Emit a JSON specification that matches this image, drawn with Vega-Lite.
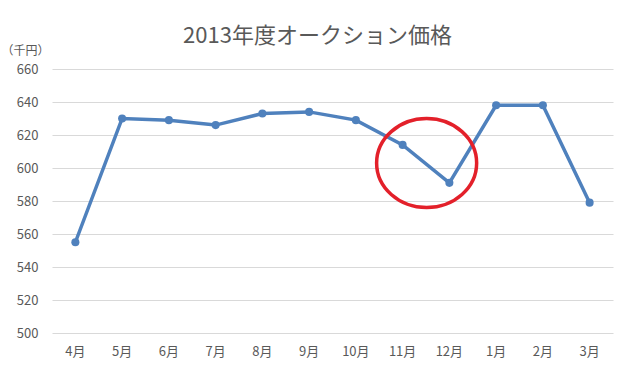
{
  "$schema": "https://vega.github.io/schema/vega-lite/v6.json",
  "width": 561,
  "height": 264,
  "autosize": {"type": "none"},
  "padding": {"left": 52, "top": 69, "right": 24, "bottom": 46},
  "background": "white",
  "title": {
    "text": "2013年度オークション価格",
    "font": "Noto Sans CJK JP",
    "fontSize": 22,
    "fontWeight": "normal",
    "color": "#595959",
    "anchor": "middle",
    "offset": -4,
    "dx": -15
  },
  "config": {
    "view": {"stroke": null},
    "font": "Noto Sans CJK JP"
  },
  "datasets": {
    "prices": [
      {"month": "4月", "price": 555},
      {"month": "5月", "price": 630},
      {"month": "6月", "price": 629},
      {"month": "7月", "price": 626},
      {"month": "8月", "price": 633},
      {"month": "9月", "price": 634},
      {"month": "10月", "price": 629},
      {"month": "11月", "price": 614},
      {"month": "12月", "price": 591},
      {"month": "1月", "price": 638},
      {"month": "2月", "price": 638},
      {"month": "3月", "price": 579}
    ],
    "mark": [
      {"month": "11月", "price": 603}
    ]
  },
  "encoding": {
    "x": {
      "field": "month",
      "type": "ordinal",
      "sort": ["4月","5月","6月","7月","8月","9月","10月","11月","12月","1月","2月","3月"],
      "scale": {"type": "band", "paddingInner": 0, "paddingOuter": 0},
      "axis": {
        "title": null,
        "labelAngle": 0,
        "labelFont": "Noto Sans CJK JP",
        "labelFontSize": 13,
        "labelColor": "#595959",
        "labelPadding": 12,
        "ticks": false,
        "domain": false,
        "grid": false
      }
    },
    "y": {
      "field": "price",
      "type": "quantitative",
      "scale": {"domain": [500, 660], "nice": false, "zero": false},
      "axis": {
        "title": "（千円）",
        "titleAngle": 0,
        "titleX": -51,
        "titleY": -19,
        "titleAlign": "left",
        "titleBaseline": "middle",
        "titleFont": "Noto Sans CJK JP",
        "titleFontSize": 12,
        "titleFontWeight": "normal",
        "titleColor": "#595959",
        "values": [500, 520, 540, 560, 580, 600, 620, 640, 660],
        "labelFont": "Noto Sans CJK JP",
        "labelFontSize": 13,
        "labelColor": "#595959",
        "labelPadding": 14,
        "ticks": false,
        "domain": false,
        "gridColor": "#D9D9D9",
        "gridWidth": 1
      }
    }
  },
  "layer": [
    {
      "data": {"name": "prices"},
      "mark": {"type": "line", "color": "#4F81BD", "strokeWidth": 3.5, "point": {"filled": true, "size": 65, "color": "#4F81BD"}}
    },
    {
      "data": {"name": "mark"},
      "mark": {
        "type": "point",
        "shape": "M -1.124 0 A 1.124 1 0 1 0 1.124 0 A 1.124 1 0 1 0 -1.124 0 Z",
        "size": 7921,
        "filled": false,
        "stroke": "#E3202A",
        "strokeWidth": 3.5,
        "opacity": 1,
        "xOffset": 24
      }
    }
  ]
}
